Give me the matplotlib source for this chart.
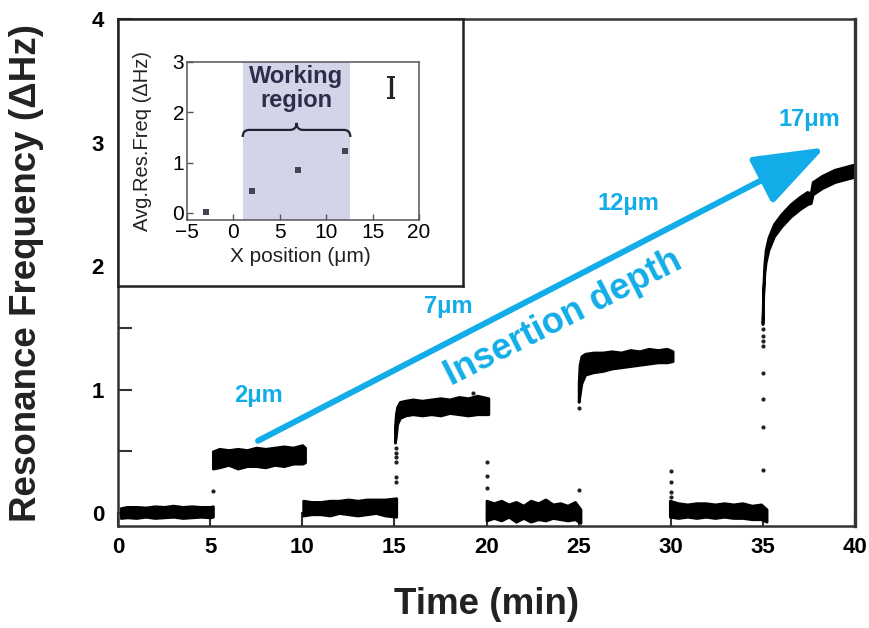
import matplotlib.pyplot as plt
from matplotlib.patches import FancyArrowPatch, PathPatch
from matplotlib.path import Path
from matplotlib.ticker import MultipleLocator

plt.rcParams['font.family'] = ['Liberation Sans', 'DejaVu Sans']

# resonance frequency trace, one band (lower / upper edge) per 5 min step
t1 = [0.15, 0.5, 1.0, 1.5, 2.0, 2.5, 3.0, 3.5, 4.0, 4.5, 5.0, 5.15]
lo1 = [-0.04, -0.035, -0.04, -0.03, -0.04, -0.035, -0.03, -0.04, -0.035, -0.03, -0.035, -0.03]
hi1 = [0.04, 0.05, 0.05, 0.045, 0.055, 0.05, 0.06, 0.05, 0.055, 0.05, 0.05, 0.055]

t2 = [5.15, 5.5, 6.0, 6.5, 7.0, 7.5, 8.0, 8.5, 9.0, 9.5, 10.0, 10.15]
lo2 = [0.36, 0.37, 0.39, 0.36, 0.38, 0.38, 0.37, 0.39, 0.38, 0.40, 0.40, 0.41]
hi2 = [0.50, 0.52, 0.51, 0.52, 0.51, 0.53, 0.52, 0.53, 0.54, 0.53, 0.55, 0.53]

t3 = [10.05, 10.5, 11.0, 11.5, 12.0, 12.5, 13.0, 13.5, 14.0, 14.5, 15.1]
lo3 = [-0.02, -0.01, -0.01, -0.02, 0.0, -0.01, -0.02, -0.01, 0.0, -0.02, -0.03]
hi3 = [0.10, 0.09, 0.09, 0.10, 0.10, 0.11, 0.10, 0.11, 0.11, 0.11, 0.12]

t4 = [15.03, 15.08, 15.15, 15.3, 15.6, 16.0, 16.5, 17.0, 17.5, 18.0, 18.5, 19.0, 19.5, 20.1]
lo4 = [0.57, 0.62, 0.72, 0.77, 0.79, 0.80, 0.79, 0.80, 0.79, 0.81, 0.80, 0.79, 0.80, 0.80]
hi4 = [0.70, 0.80, 0.86, 0.90, 0.91, 0.92, 0.91, 0.92, 0.93, 0.92, 0.94, 0.93, 0.95, 0.93]

t5 = [20.0, 20.4, 20.8, 21.2, 21.6, 22.0, 22.4, 22.8, 23.2, 23.6, 24.0, 24.4, 24.8, 25.1]
lo5 = [-0.06, -0.04, -0.06, -0.03, -0.07, -0.04, -0.07, -0.05, -0.06, -0.04, -0.05, -0.06, -0.05, -0.08]
hi5 = [0.10, 0.08, 0.10, 0.07, 0.09, 0.06, 0.10, 0.08, 0.11, 0.07, 0.08, 0.06, 0.09, 0.03]

t6 = [25.0, 25.05, 25.15, 25.35, 25.8, 26.3, 26.8, 27.3, 27.8, 28.3, 28.8, 29.3, 29.8, 30.1]
lo6 = [0.90, 0.95, 1.05, 1.12, 1.14, 1.15, 1.17, 1.18, 1.19, 1.20, 1.21, 1.22, 1.22, 1.23]
hi6 = [1.05, 1.20, 1.27, 1.29, 1.30, 1.30, 1.31, 1.30, 1.32, 1.31, 1.33, 1.32, 1.33, 1.31]

t7 = [29.95, 30.4, 30.9, 31.4, 31.9, 32.4, 32.9, 33.4, 33.9, 34.4, 34.9, 35.2]
lo7 = [-0.03, -0.04, -0.03, -0.04, -0.03, -0.04, -0.03, -0.04, -0.04, -0.05, -0.05, -0.07]
hi7 = [0.10, 0.08, 0.07, 0.08, 0.08, 0.07, 0.08, 0.07, 0.08, 0.06, 0.07, 0.03]

t8 = [34.98, 35.02, 35.08, 35.15, 35.3, 35.6, 36.0, 36.5, 37.0, 37.4, 37.6, 37.7, 38.2, 38.9, 39.9]
lo8 = [1.53, 1.76, 1.94, 2.03, 2.13, 2.24, 2.32, 2.40, 2.46, 2.50, 2.51, 2.58, 2.63, 2.68, 2.72]
hi8 = [1.57, 1.84, 2.02, 2.13, 2.23, 2.34, 2.42, 2.50, 2.56, 2.60, 2.59, 2.68, 2.73, 2.78, 2.82]

# isolated readings while the probe moves
dot_t = [5.15, 15.07, 15.07, 15.07, 15.07, 15.07, 15.07, 19.26, 20.04, 20.04, 20.04,
         25.0, 25.0, 30.0, 30.0, 30.0, 30.0, 34.98, 34.98, 34.98, 34.98,
         34.98, 34.98, 34.98, 34.98]
dot_f = [0.18, 0.53, 0.49, 0.45, 0.41, 0.29, 0.25, 0.97, 0.41, 0.30, 0.20,
         0.85, 0.19, 0.34, 0.25, 0.17, 0.13, 0.35, 0.70, 0.92, 1.13,
         1.49, 1.43, 1.39, 1.35]

# inset: average resonance frequency vs. x position
ins_x = [-3, 2, 7, 12]
ins_y = [0.02, 0.44, 0.86, 1.24]
err_x = [17]
err_y = [2.5]
err_e = [0.21]
region = [1.0, 12.6]

depth_labels = ['2μm', '7μm', '12μm', '17μm']
depth_x = [7.6, 17.9, 27.7, 37.55]
depth_y = [0.95, 1.67, 2.51, 3.19]

blue = '#12ade8'
dark = '#333333'

fig = plt.figure(figsize=(8.69, 6.28), dpi=100)
ax = fig.add_axes([0.1358, 0.1624, 0.8481, 0.8073])

for t, lo, hi in [(t1, lo1, hi1), (t2, lo2, hi2), (t3, lo3, hi3), (t4, lo4, hi4),
                  (t5, lo5, hi5), (t6, lo6, hi6), (t7, lo7, hi7), (t8, lo8, hi8)]:
    ax.fill_between(t, lo, hi, color='black', lw=2, edgecolor='black', zorder=2)
ax.scatter(dot_t, dot_f, s=9, color='#222222', lw=0, zorder=2)

ax.set_xlim(0, 40)
ax.set_ylim(-0.105, 4)
ax.xaxis.set_major_locator(MultipleLocator(5))
ax.yaxis.set_major_locator(MultipleLocator(1))
ax.yaxis.set_minor_locator(MultipleLocator(0.5))
ax.tick_params(which='both', direction='in', length=10, width=1.5, color=dark,
               top=False, right=False)
ax.tick_params(axis='x', labelsize=16, pad=8)
ax.tick_params(axis='y', labelsize=16, pad=10)
for lab in ax.get_xticklabels() + ax.get_yticklabels():
    lab.set_fontweight('bold')
for s in ax.spines.values():
    s.set_linewidth(1.8)
    s.set_color(dark)
ax.spines['right'].set_linewidth(2.4)

ax.set_xlabel('Time (min)', fontsize=26.5, fontweight='bold', color='#222222')
ax.set_ylabel('Resonance Frequency (ΔHz)', fontsize=26.5, fontweight='bold', color='#222222')
ax.xaxis.set_label_coords(0.5, -0.12)
ax.yaxis.set_label_coords(-0.1, 0.5)

# insertion depth arrow and labels
arrow = FancyArrowPatch((depth_x[0], 0.585), (38.36, 2.96),
                        arrowstyle='-|>,head_length=44,head_width=16', mutation_scale=1,
                        lw=4.3, color=blue, shrinkA=0, shrinkB=0, zorder=3)
ax.add_patch(arrow)
for lab, x, y in zip(depth_labels, depth_x, depth_y):
    ax.text(x, y, lab, ha='center', va='center', fontsize=17, fontweight='bold', color=blue)
ax.text(24.15, 1.58, 'Insertion depth', rotation=27, rotation_mode='anchor',
        ha='center', va='center', fontsize=26, fontweight='bold', color=blue)

# inset frame
frame = fig.add_axes([0.1358, 0.5446, 0.3970, 0.4252], zorder=3)
frame.set_xticks([])
frame.set_yticks([])
frame.set_facecolor('white')
for s in frame.spines.values():
    s.set_linewidth(1.8)
    s.set_color('#222222')

ax_in = fig.add_axes([0.2152, 0.6497, 0.2670, 0.2516], zorder=4)
ax_in.axvspan(region[0], region[1], color='#d4d4e8', lw=0, zorder=0)
ax_in.scatter(ins_x, ins_y, marker='s', s=14, color='#444455', lw=0, zorder=3)
ax_in.errorbar(err_x, err_y, yerr=err_e, fmt='none', ecolor='#222222',
               elinewidth=2.4, capsize=3, capthick=1.4, zorder=3)
ax_in.set_xlim(-5, 20)
ax_in.set_ylim(-0.14, 3)
ax_in.xaxis.set_major_locator(MultipleLocator(5))
ax_in.yaxis.set_major_locator(MultipleLocator(1))
ax_in.tick_params(direction='in', length=4, width=1, color='#555555', labelsize=15, pad=2)
for s in ax_in.spines.values():
    s.set_linewidth(1.1)
    s.set_color('#555555')
ax_in.set_xlabel('X position (μm)', fontsize=15, color='#222222')
ax_in.set_ylabel('Avg.Res.Freq (ΔHz)', fontsize=14.5, color='#222222')
ax_in.xaxis.set_label_coords(0.49, -0.17)
ax_in.yaxis.set_label_coords(-0.15, 0.5)

# curly brace over the working region
x0, x1 = region
xm = (x0 + x1) / 2
q = 0.7
y_arm, y_bar, y_tip = 1.51, 1.65, 1.79
verts = [(x0, y_arm), (x0, y_bar), (x0 + q, y_bar), (xm - q, y_bar),
         (xm, y_bar), (xm, y_tip), (xm, y_bar), (xm + q, y_bar),
         (x1 - q, y_bar), (x1, y_bar), (x1, y_arm)]
codes = [Path.MOVETO, Path.CURVE3, Path.CURVE3, Path.LINETO,
         Path.CURVE3, Path.CURVE3, Path.CURVE3, Path.CURVE3,
         Path.LINETO, Path.CURVE3, Path.CURVE3]
ax_in.add_patch(PathPatch(Path(verts, codes), fc='none', ec='#222233', lw=1.6, zorder=3))
ax_in.text(xm, 2.48, 'Working\nregion', ha='center', va='center', fontsize=17,
           fontweight='bold', color='#2d2d4b', linespacing=1.05)

fig.savefig('out.png', dpi=100)
